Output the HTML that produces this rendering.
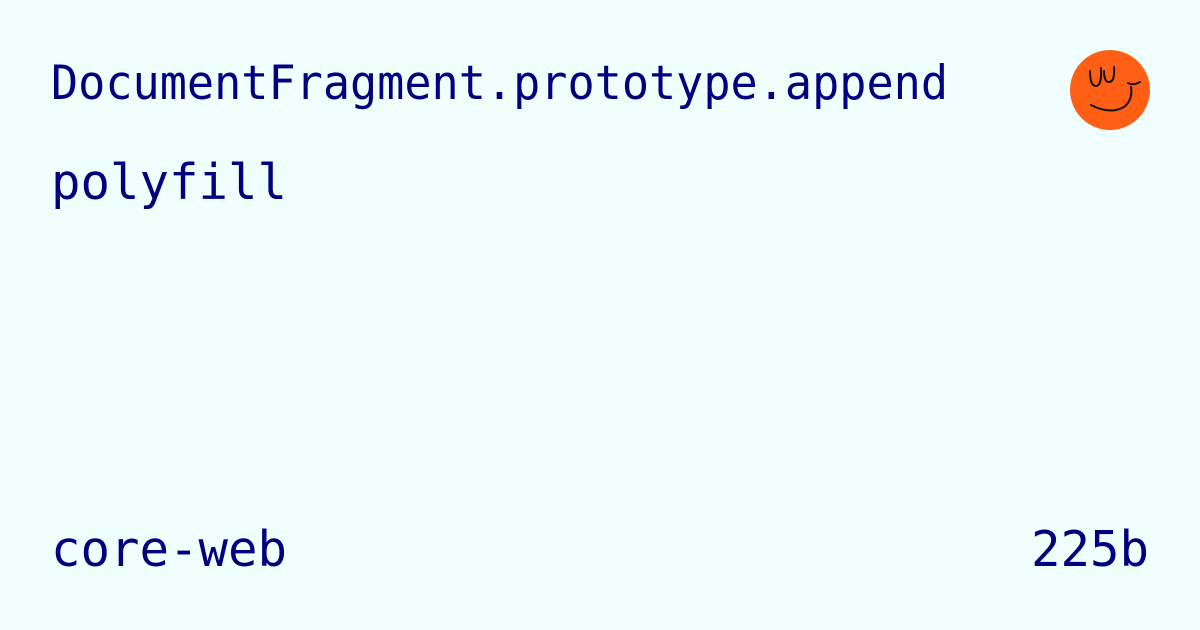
<!DOCTYPE html>
<html><head><style>
html,body{margin:0;padding:0;background:#f0fffe;}
</style></head><body>
<svg width="1200" height="630" viewBox="0 0 1200 630" xmlns="http://www.w3.org/2000/svg" style="display:block">
<rect width="1200" height="630" fill="#f0fffe"/>
<g font-family="'DejaVu Sans Mono', 'Liberation Mono', monospace" font-size="49" fill="#000080">
<text x="51" y="99" font-size="47" textLength="897" lengthAdjust="spacingAndGlyphs">DocumentFragment.prototype.append</text>
<text x="51" y="199">polyfill</text>
<text x="51" y="566">core-web</text>
<text x="1149" y="566" text-anchor="end">225b</text>
</g>
<circle cx="1110" cy="90" r="40" fill="#ff5f14"/>
<g fill="none" stroke="#111" stroke-width="2" stroke-linecap="round">
<path d="M1090 71 Q1090 86 1096 86 Q1102 86 1101 68"/>
<path d="M1104 71 Q1104 82 1109 82 Q1115 82 1114 67"/>
<path d="M1128 83 Q1133 86 1140 82"/>
<path d="M1091 105 Q1110 115 1124 107 Q1133 100 1131 87"/>
</g>
</svg>
</body></html>
